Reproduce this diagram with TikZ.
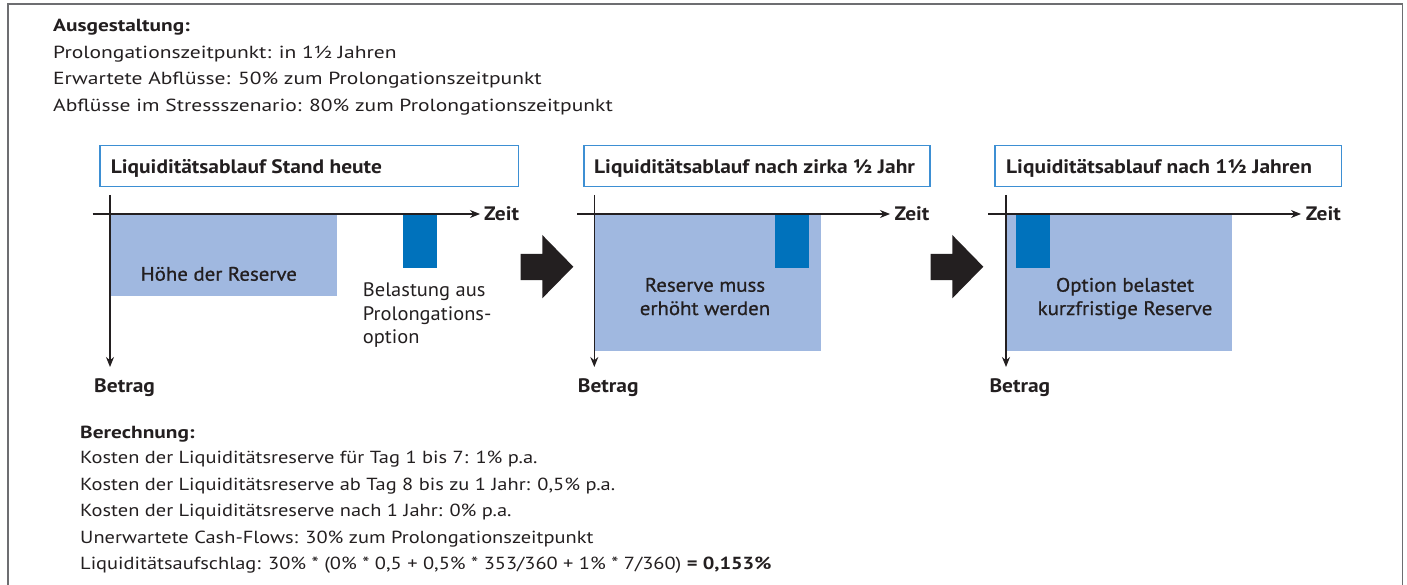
\documentclass[tikz,border=0pt]{standalone}
\usepackage{fontspec}
\setmainfont{PT Sans}
\newfontfamily\descfont[FakeStretch=1.23]{PT Sans}
\newfontfamily\deschfont[FakeStretch=1.22]{PT Sans}
\newfontfamily\calcfont[FakeStretch=1.167]{PT Sans}
\newfontfamily\headfont[FakeStretch=1.1]{PT Sans}
\newfontfamily\chartfont[FakeStretch=1.05]{PT Sans}
\newfontfamily\semifont[FakeStretch=1.07,FakeBold=0.8]{PT Sans}
\usetikzlibrary{arrows.meta}

\definecolor{ink}{HTML}{231F20}
\definecolor{framegray}{HTML}{6D6E71}
\definecolor{reserve}{HTML}{A0B8E0}
\definecolor{burden}{HTML}{0072BC}
\definecolor{boxline}{HTML}{3D8FD3}

\tikzset{
  desc/.style={anchor=base west, inner sep=0pt, text=ink,
    font=\descfont\fontsize{17.5}{26.6}\selectfont},
  deschead/.style={desc, font=\deschfont\fontsize{17.5}{26.6}\selectfont\bfseries},
  calc/.style={anchor=base west, inner sep=0pt, text=ink,
    font=\calcfont\fontsize{17.5}{26.6}\selectfont},
  calchead/.style={calc, font=\deschfont\fontsize{17.5}{26.6}\selectfont\bfseries},
  titlebox/.style={draw=boxline, line width=1.2pt, fill=white, anchor=north west,
    inner sep=0pt},
  titletext/.style={anchor=base west, inner sep=0pt, text=ink,
    font=\headfont\fontsize{19.5}{23}\selectfont\bfseries},
  axislabel/.style={anchor=base west, inner sep=0pt, text=ink,
    font=\headfont\fontsize{19.5}{23}\selectfont\bfseries},
  charttext/.style={inner sep=0pt, text=ink, align=center,
    font=\chartfont\fontsize{19.5}{23.3}\selectfont},
  reservetext/.style={inner sep=0pt, text=ink, align=center, anchor=base,
    font=\semifont\fontsize{19.5}{23.3}\selectfont},
  axis/.style={draw=ink, line width=1.3pt, -{Stealth[length=10pt,width=8pt]}},
  reservebar/.style={fill=reserve},
  burdenbar/.style={fill=burden},
  bigarrow/.style={fill=ink},
}

\begin{document}
\begin{tikzpicture}[x=1pt,y=-1pt]
\useasboundingbox (0,0) rectangle (1407,585);

% outer frame, open at the bottom
\draw[framegray, line width=1.5pt] (8,600) -- (8,4) -- (1402.5,4) -- (1402.5,600);

% design block
\node[deschead] (ausg) at (53,31.7) {Ausgestaltung:};
\node[desc] (ausg1) at (53,58.3) {Prolongationszeitpunkt: in 1½ Jahren};
\node[desc] (ausg2) at (53,85) {Erwartete Abflüsse: 50\% zum Prolongationszeitpunkt};
\node[desc] (ausg3) at (53,111.6) {Abflüsse im Stressszenario: 80\% zum Prolongationszeitpunkt};

% ---------- panel 1: today ----------
\node[titlebox, minimum width=418.4pt, minimum height=40.7pt] (t1) at (99.3,145) {};
\node[titletext] (t1text) at (110.7,173.3) {Liquiditätsablauf Stand heute};

\fill[reservebar] (110.7,214) rectangle (336.7,295.7);
\fill[burdenbar] (403.3,214) rectangle (436.7,267.7);

\coordinate (y1s) at (110,195);
\coordinate (y1e) at (110,367);
\coordinate (x1s) at (92.7,214);
\coordinate (x1e) at (480,214);
\draw[axis] (y1s) -- (y1e);
\draw[axis] (x1s) -- (x1e);
\node[axislabel] (zeit1) at (484,220.5) {Zeit};
\node[axislabel] (betrag1) at (94,392) {Betrag};

\node[reservetext] (res1) at (218.8,280.7) {Höhe der Reserve};
\node[charttext, anchor=base west, align=left] (bel1a) at (362.7,296.7) {Belastung aus};
\node[charttext, anchor=base west, align=left] (bel1b) at (362.7,320) {Prolongations-};
\node[charttext, anchor=base west, align=left] (bel1c) at (362.7,343.3) {option};

% arrow to panel 2
\fill[bigarrow] (520.7,254) -- (542.3,254) -- (542.3,235) -- (573.3,266.7)
  -- (542.3,298.3) -- (542.3,280) -- (520.7,280) -- cycle;

% ---------- panel 2: after about half a year ----------
\node[titlebox, minimum width=346pt, minimum height=40.7pt] (t2) at (583.3,145) {};
\node[titletext] (t2text) at (594,173.3) {Liquiditätsablauf nach zirka ½ Jahr};

\fill[reservebar] (594.3,214) rectangle (820.7,350.7);
\fill[burdenbar] (775,214) rectangle (809,267.7);

\coordinate (y2s) at (594.3,195);
\coordinate (y2e) at (594.3,367);
\coordinate (x2s) at (577.3,214);
\coordinate (x2e) at (890,214);
\draw[axis] (y2s) -- (y2e);
\draw[axis] (x2s) -- (x2e);
\node[axislabel] (zeit2) at (894.3,220.5) {Zeit};
\node[axislabel] (betrag2) at (577.7,392) {Betrag};

\node[reservetext] (res2a) at (705,291.7) {Reserve muss};
\node[reservetext] (res2b) at (705,315) {erhöht werden};

% arrow to panel 3
\fill[bigarrow] (930.7,254) -- (952.3,254) -- (952.3,235) -- (983.3,266.7)
  -- (952.3,298.3) -- (952.3,280) -- (930.7,280) -- cycle;

% ---------- panel 3: after one and a half years ----------
\node[titlebox, minimum width=346.7pt, minimum height=40.7pt] (t3) at (994.3,145) {};
\node[titletext] (t3text) at (1006,173.3) {Liquiditätsablauf nach 1½ Jahren};

\fill[reservebar] (1006,214) rectangle (1231.7,350.7);
\fill[burdenbar] (1016,214) rectangle (1050,267.7);

\coordinate (y3s) at (1006,195);
\coordinate (y3e) at (1006,367);
\coordinate (x3s) at (988.3,214);
\coordinate (x3e) at (1301,214);
\draw[axis] (y3s) -- (y3e);
\draw[axis] (x3s) -- (x3e);
\node[axislabel] (zeit3) at (1305.7,220.5) {Zeit};
\node[axislabel] (betrag3) at (989.3,392) {Betrag};

\node[reservetext] (res3a) at (1125,291.7) {Option belastet};
\node[reservetext] (res3b) at (1125,315) {kurzfristige Reserve};

% calculation block
\node[calchead] (ber) at (80,438.5) {Berechnung:};
\node[calc] (ber1) at (80,463.5) {Kosten der Liquiditätsreserve für Tag 1 bis 7: 1\% p.a.};
\node[calc] (ber2) at (80,490) {Kosten der Liquiditätsreserve ab Tag 8 bis zu 1 Jahr: 0,5\% p.a.};
\node[calc] (ber3) at (80,516.5) {Kosten der Liquiditätsreserve nach 1 Jahr: 0\% p.a.};
\node[calc] (ber4) at (80,543) {Unerwartete Cash-Flows: 30\% zum Prolongationszeitpunkt};
\node[calc] (ber5) at (80,569.5) {Liquiditätsaufschlag: 30\% * (0\% * 0,5 + 0,5\% * 353/360 + 1\% * 7/360) \textbf{= 0,153\%}};
\end{tikzpicture}
\end{document}
